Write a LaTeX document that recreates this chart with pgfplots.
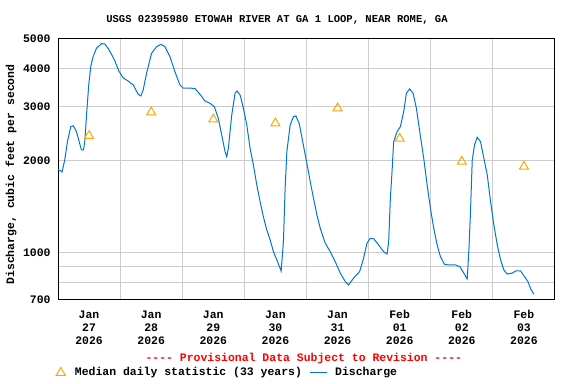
\documentclass[border=0pt]{standalone}
\usepackage{fontspec}
\setmonofont{Liberation Mono}
\usepackage{pgfplots}
\pgfplotsset{compat=1.18}
\definecolor{qblue}{RGB}{0,119,204}
\definecolor{qorange}{RGB}{255,165,0}
\definecolor{qgrid}{RGB}{204,204,204}
\newcommand{\tf}{\fontsize{8.6}{9.75}\selectfont\ttfamily\bfseries}
\pgfplotsset{
  medleg/.style={legend image code/.code={\draw[##1] plot coordinates {(3pt,0pt)};\path[draw=none,fill=none] (0pt,0pt) -- (11.6pt,0pt);}},
  disleg/.style={legend image code/.code={\draw[##1] (0pt,0pt) -- (12.75pt,0pt);\path[draw=none,fill=none] (0pt,0pt) -- (16.5pt,0pt);}},
}
\pgfplotstableread{
d q
0.000 1874
0.065 1836
0.108 2007
0.152 2306
0.205 2582
0.248 2600
0.297 2487
0.334 2337
0.377 2167
0.410 2167
0.431 2306
0.463 2892
0.495 3537
0.527 4059
0.565 4378
0.619 4661
0.700 4827
0.753 4816
0.806 4661
0.861 4456
0.915 4238
0.979 3928
1.048 3734
1.129 3642
1.210 3537
1.290 3298
1.334 3256
1.371 3406
1.426 3861
1.506 4490
1.587 4719
1.656 4802
1.721 4719
1.802 4378
1.882 3908
1.963 3537
2.016 3450
2.152 3450
2.205 3440
2.285 3298
2.366 3134
2.447 3080
2.516 3003
2.581 2751
2.635 2427
2.689 2140
2.716 2060
2.742 2195
2.797 2820
2.850 3322
2.882 3380
2.931 3280
2.984 2966
3.039 2616
3.092 2195
3.145 1936
3.200 1665
3.253 1468
3.306 1311
3.361 1186
3.415 1100
3.468 1007
3.523 946
3.592 871
3.629 1087
3.656 1624
3.684 2140
3.737 2616
3.790 2784
3.829 2800
3.882 2650
3.935 2330
4.006 1961
4.060 1707
4.113 1506
4.168 1328
4.221 1202
4.302 1074
4.382 1007
4.463 934
4.544 857
4.624 804
4.677 784
4.758 825
4.855 867
4.919 958
4.974 1074
5.027 1114
5.081 1110
5.161 1060
5.242 1007
5.297 990
5.323 1087
5.350 1506
5.377 1840
5.403 2306
5.458 2487
5.511 2582
5.565 2892
5.608 3322
5.661 3432
5.716 3322
5.769 2966
5.823 2487
5.887 2036
5.942 1665
5.995 1397
6.048 1202
6.103 1060
6.156 970
6.221 916
6.290 911
6.398 911
6.468 900
6.532 857
6.587 820
6.613 1007
6.640 1361
6.668 2007
6.705 2249
6.748 2385
6.802 2306
6.855 2036
6.910 1795
6.963 1468
7.016 1232
7.071 1060
7.124 946
7.177 878
7.232 851
7.313 857
7.366 871
7.446 871
7.511 834
7.565 804
7.608 761
7.661 731
}\discharge
\pgfplotstableread{
d q
0.5 2410
1.5 2878
2.5 2730
3.5 2650
4.5 2966
5.5 2360
6.5 1985
7.5 1912
}\median
\begin{document}
\begin{tikzpicture}
\path[use as bounding box] (-43.5pt,-63pt) rectangle (388.5pt,225pt);
\begin{axis}[
  scale only axis, width=372.75pt, height=195.75pt,
  at={(0pt,0pt)}, anchor=south west,
  ymode=log, xmin=0, xmax=8, ymin=700, ymax=5000,
  xtick={0.5,1.5,2.5,3.5,4.5,5.5,6.5,7.5},
  xticklabels={{Jan\\27\\2026},{Jan\\28\\2026},{Jan\\29\\2026},{Jan\\30\\2026},{Jan\\31\\2026},{Feb\\01\\2026},{Feb\\02\\2026},{Feb\\03\\2026}},
  xticklabel style={align=center, font=\tf, anchor=center, yshift=-20.5pt},
  minor xtick={1,2,3,4,5,6,7},
  ytick={700,1000,2000,3000,4000,5000},
  yticklabels={700,1000,2000,3000,4000,5000},
  yticklabel style={font=\tf, xshift=-2pt},
  minor ytick={800,900},
  xminorgrids, ymajorgrids, yminorgrids,
  major tick length=0pt, minor tick length=0pt,
  grid style={draw=qgrid, line width=0.75pt},
  minor grid style={draw=qgrid, line width=0.75pt},
  axis line style={line width=0.75pt},
  legend columns=2,
  legend style={draw=none, fill=none, font=\tf, at={(axis description cs:-0.004,-0.2785)}, anchor=west, inner sep=0pt,
    /tikz/every even column/.append style={column sep=4pt}},
  legend cell align=left,
]
\addplot[only marks, mark=triangle, mark size=3.9pt, mark options={draw=qorange, line width=0.75pt, fill=none}, medleg] table[x=d,y=q]{\median};
\addlegendentry{Median daily statistic (33 years)}
\addplot[qblue, line width=0.75pt, mark=none, disleg] table[x=d,y=q]{\discharge};
\addlegendentry{Discharge}
\end{axis}
\node[font=\fontsize{7.9}{9}\selectfont\ttfamily\bfseries] at (164.25pt,210pt) {USGS 02395980 ETOWAH RIVER AT GA 1 LOOP, NEAR ROME, GA};
\node[font=\tf, text=red] at (184.35pt,-44.25pt) {---- Provisional Data Subject to Revision ----};
\node[font=\tf, rotate=90] at (-35.25pt,94.1pt) {Discharge, cubic feet per second};
\end{tikzpicture}
\end{document}
